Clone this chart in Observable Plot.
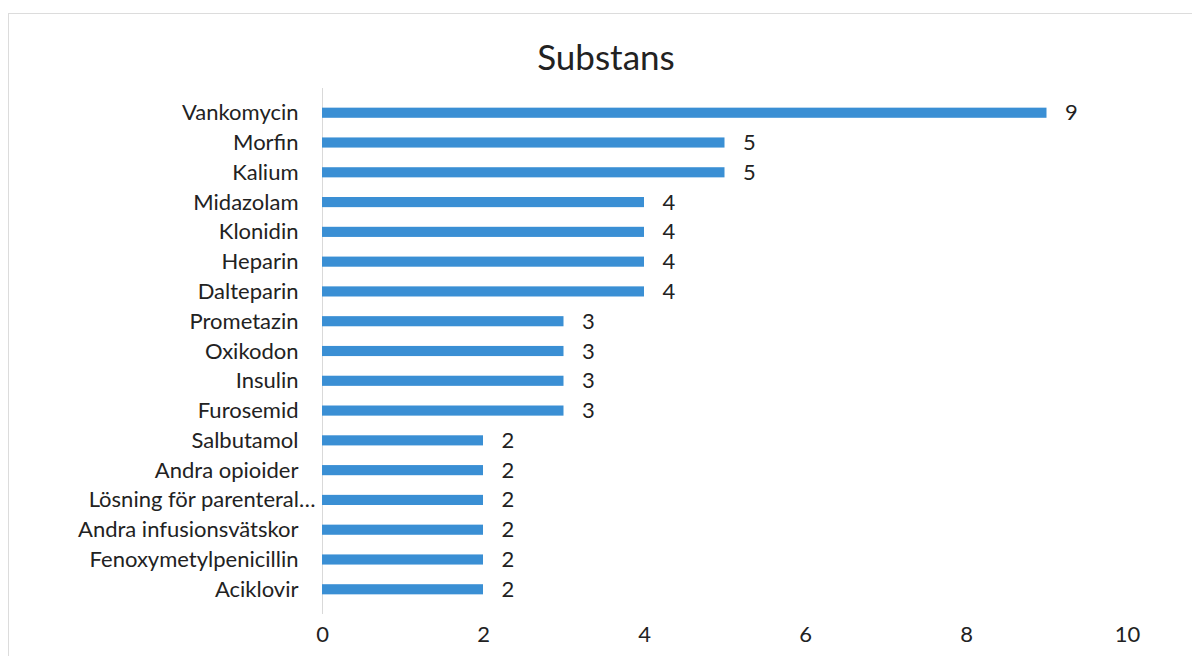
<!DOCTYPE html>
<html>
<head>
<meta charset="utf-8">
<script src="https://cdn.jsdelivr.net/npm/d3@7"></script>
<script src="https://cdn.jsdelivr.net/npm/@observablehq/plot@0.6"></script>
<style>
  html, body { margin: 0; padding: 0; background: #fff; }
  #wrap { position: relative; width: 1192px; height: 656px; overflow: hidden; font-family: Lato, sans-serif; }
  #frame { position: absolute; left: 8px; top: 13px; width: 1200px; height: 700px; border-left: 1px solid #dcdcdc; border-top: 1px solid #dcdcdc; }
  #title { position: absolute; top: 39px; left: 0; width: 1212px; text-align: center; font-size: 35px; line-height: 35px; color: #222; }
  #chart { position: absolute; left: 0; top: 0; }
</style>
</head>
<body>
<div id="wrap">
  <div id="frame"></div>
  <div id="title">Substans</div>
  <div id="chart"></div>
</div>
<script>
const substances = ["Vankomycin","Morfin","Kalium","Midazolam","Klonidin","Heparin","Dalteparin","Prometazin","Oxikodon","Insulin","Furosemid","Salbutamol","Andra opioider","Lösning för parenteral…","Andra infusionsvätskor","Fenoxymetylpenicillin","Aciklovir"];
const counts = [9,5,5,4,4,4,4,3,3,3,3,2,2,2,2,2,2];
const xTicks = [0,2,4,6,8,10];
const truncatedLabel = "Lösning för parenteral…";

const data = substances.map((s, i) => ({substans: s, antal: counts[i]}));

const chart = Plot.plot({
  width: 1192,
  height: 656,
  marginLeft: 322,
  marginRight: 65,
  marginTop: 88,
  marginBottom: 42,
  style: {fontFamily: "Lato, sans-serif", fontSize: "22px", color: "#222", background: "transparent"},
  x: {domain: [0, 10], ticks: xTicks, tickSize: 0, tickPadding: 12, label: null},
  y: {domain: substances, padding: 0.66, round: false, axis: null, label: null},
  marks: [
    Plot.axisY(substances.filter(s => s !== truncatedLabel), {tickSize: 0, tickPadding: 24, label: null, fontSize: 22}),
    Plot.axisY([truncatedLabel], {tickSize: 0, tickPadding: 7, label: null, fontSize: 22}),
    Plot.ruleX([0], {stroke: "#d9d9d9", strokeWidth: 1}),
    Plot.barX(data, {y: "substans", x: "antal", fill: "#3a8fd4"}),
    Plot.text(data, {y: "substans", x: "antal", text: d => String(d.antal), textAnchor: "start", dx: 18, fontSize: 22, fill: "#222"})
  ]
});
document.getElementById("chart").appendChild(chart);
</script>
</body>
</html>
